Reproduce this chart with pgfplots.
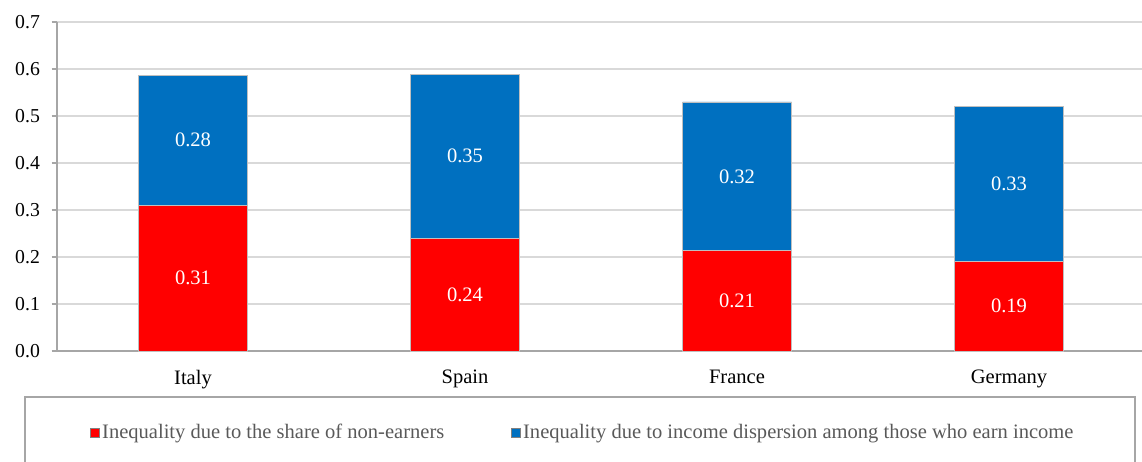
\documentclass[border=0pt]{standalone}
\usepackage{fontspec}
\setmainfont{Liberation Serif}
\usepackage{pgfplots}
\pgfplotsset{compat=1.18}
\definecolor{cred}{HTML}{FF0000}
\definecolor{cblue}{HTML}{0070C0}
\definecolor{axgray}{HTML}{A6A6A6}
\definecolor{gridgray}{HTML}{D9D9D9}
\definecolor{legtext}{HTML}{595959}
\definecolor{barline}{HTML}{BFBFBF}
\begin{document}
\fontsize{15.4pt}{18pt}\selectfont
\begin{tikzpicture}
\clip (-42.75pt,-82.5pt) rectangle (813.75pt,263.25pt);
\draw[axgray, line width=0.8pt] (-24pt,-34.5pt) rectangle (808.5pt,-120pt);
\begin{axis}[
  at={(0pt,0pt)}, anchor=south west,
  scale only axis, width=816pt, height=246.75pt,
  xmin=-0.5, xmax=3.5, ymin=0, ymax=0.7,
  ybar stacked, bar width=81.75pt,
  xtick={0,1,2,3}, xticklabels={Italy,Spain,France,Germany},
  ytick={0,0.1,...,0.7},
  yticklabel style={/pgf/number format/fixed, /pgf/number format/precision=1, /pgf/number format/fixed zerofill, xshift=-3.5pt, font=\fontsize{14.8pt}{17pt}\selectfont},
  xticklabel style={yshift=-5pt, font=\fontsize{15.4pt}{18pt}\selectfont},
  /pgf/number format/assume math mode=true,
  ticklabel style={text=black},
  axis lines*=left, axis line style={draw=axgray, line width=0.8pt, -},
  xtick style={draw=none},
  ytick style={draw=axgray, line width=0.8pt},
  tick align=outside, major tick length=4pt,
  ymajorgrids, grid style={draw=gridgray, line width=0.8pt},
  legend style={at={(0.4835,-0.249)}, anchor=center, draw=none, fill=none,
    legend columns=2, font=\fontsize{15.4pt}{18pt}\selectfont, text=legtext,
    /tikz/every even column/.append style={column sep=48pt},
    /tikz/every odd column/.append style={column sep=0pt}},
  legend image code/.code={\draw[#1, draw=gray, line width=0.4pt] (0pt,-3.4pt) rectangle (6.75pt,3.4pt);},
]
\addplot[fill=cred, draw=barline, line width=0.6pt] coordinates {(0,0.310) (1,0.240) (2,0.213) (3,0.191)};
\addplot[fill=cblue, draw=barline, line width=0.6pt] coordinates {(0,0.277) (1,0.349) (2,0.317) (3,0.330)};
\legend{Inequality due to the share of non-earners, Inequality due to income dispersion among those who earn income}
\end{axis}
\begin{axis}[
  at={(0pt,0pt)}, anchor=south west,
  scale only axis, width=816pt, height=246.75pt,
  xmin=-0.5, xmax=3.5, ymin=0, ymax=0.7,
  hide axis, clip=false,
]
\addplot[draw=none, mark=none, nodes near coords, point meta=explicit symbolic,
  nodes near coords style={text=white, anchor=center, font=\fontsize{15.4pt}{18pt}\selectfont}]
  coordinates {(0,0.155)[0.31] (1,0.120)[0.24] (2,0.1065)[0.21] (3,0.0955)[0.19]
               (0,0.4485)[0.28] (1,0.4145)[0.35] (2,0.3715)[0.32] (3,0.356)[0.33]};
\end{axis}
\end{tikzpicture}
\end{document}
